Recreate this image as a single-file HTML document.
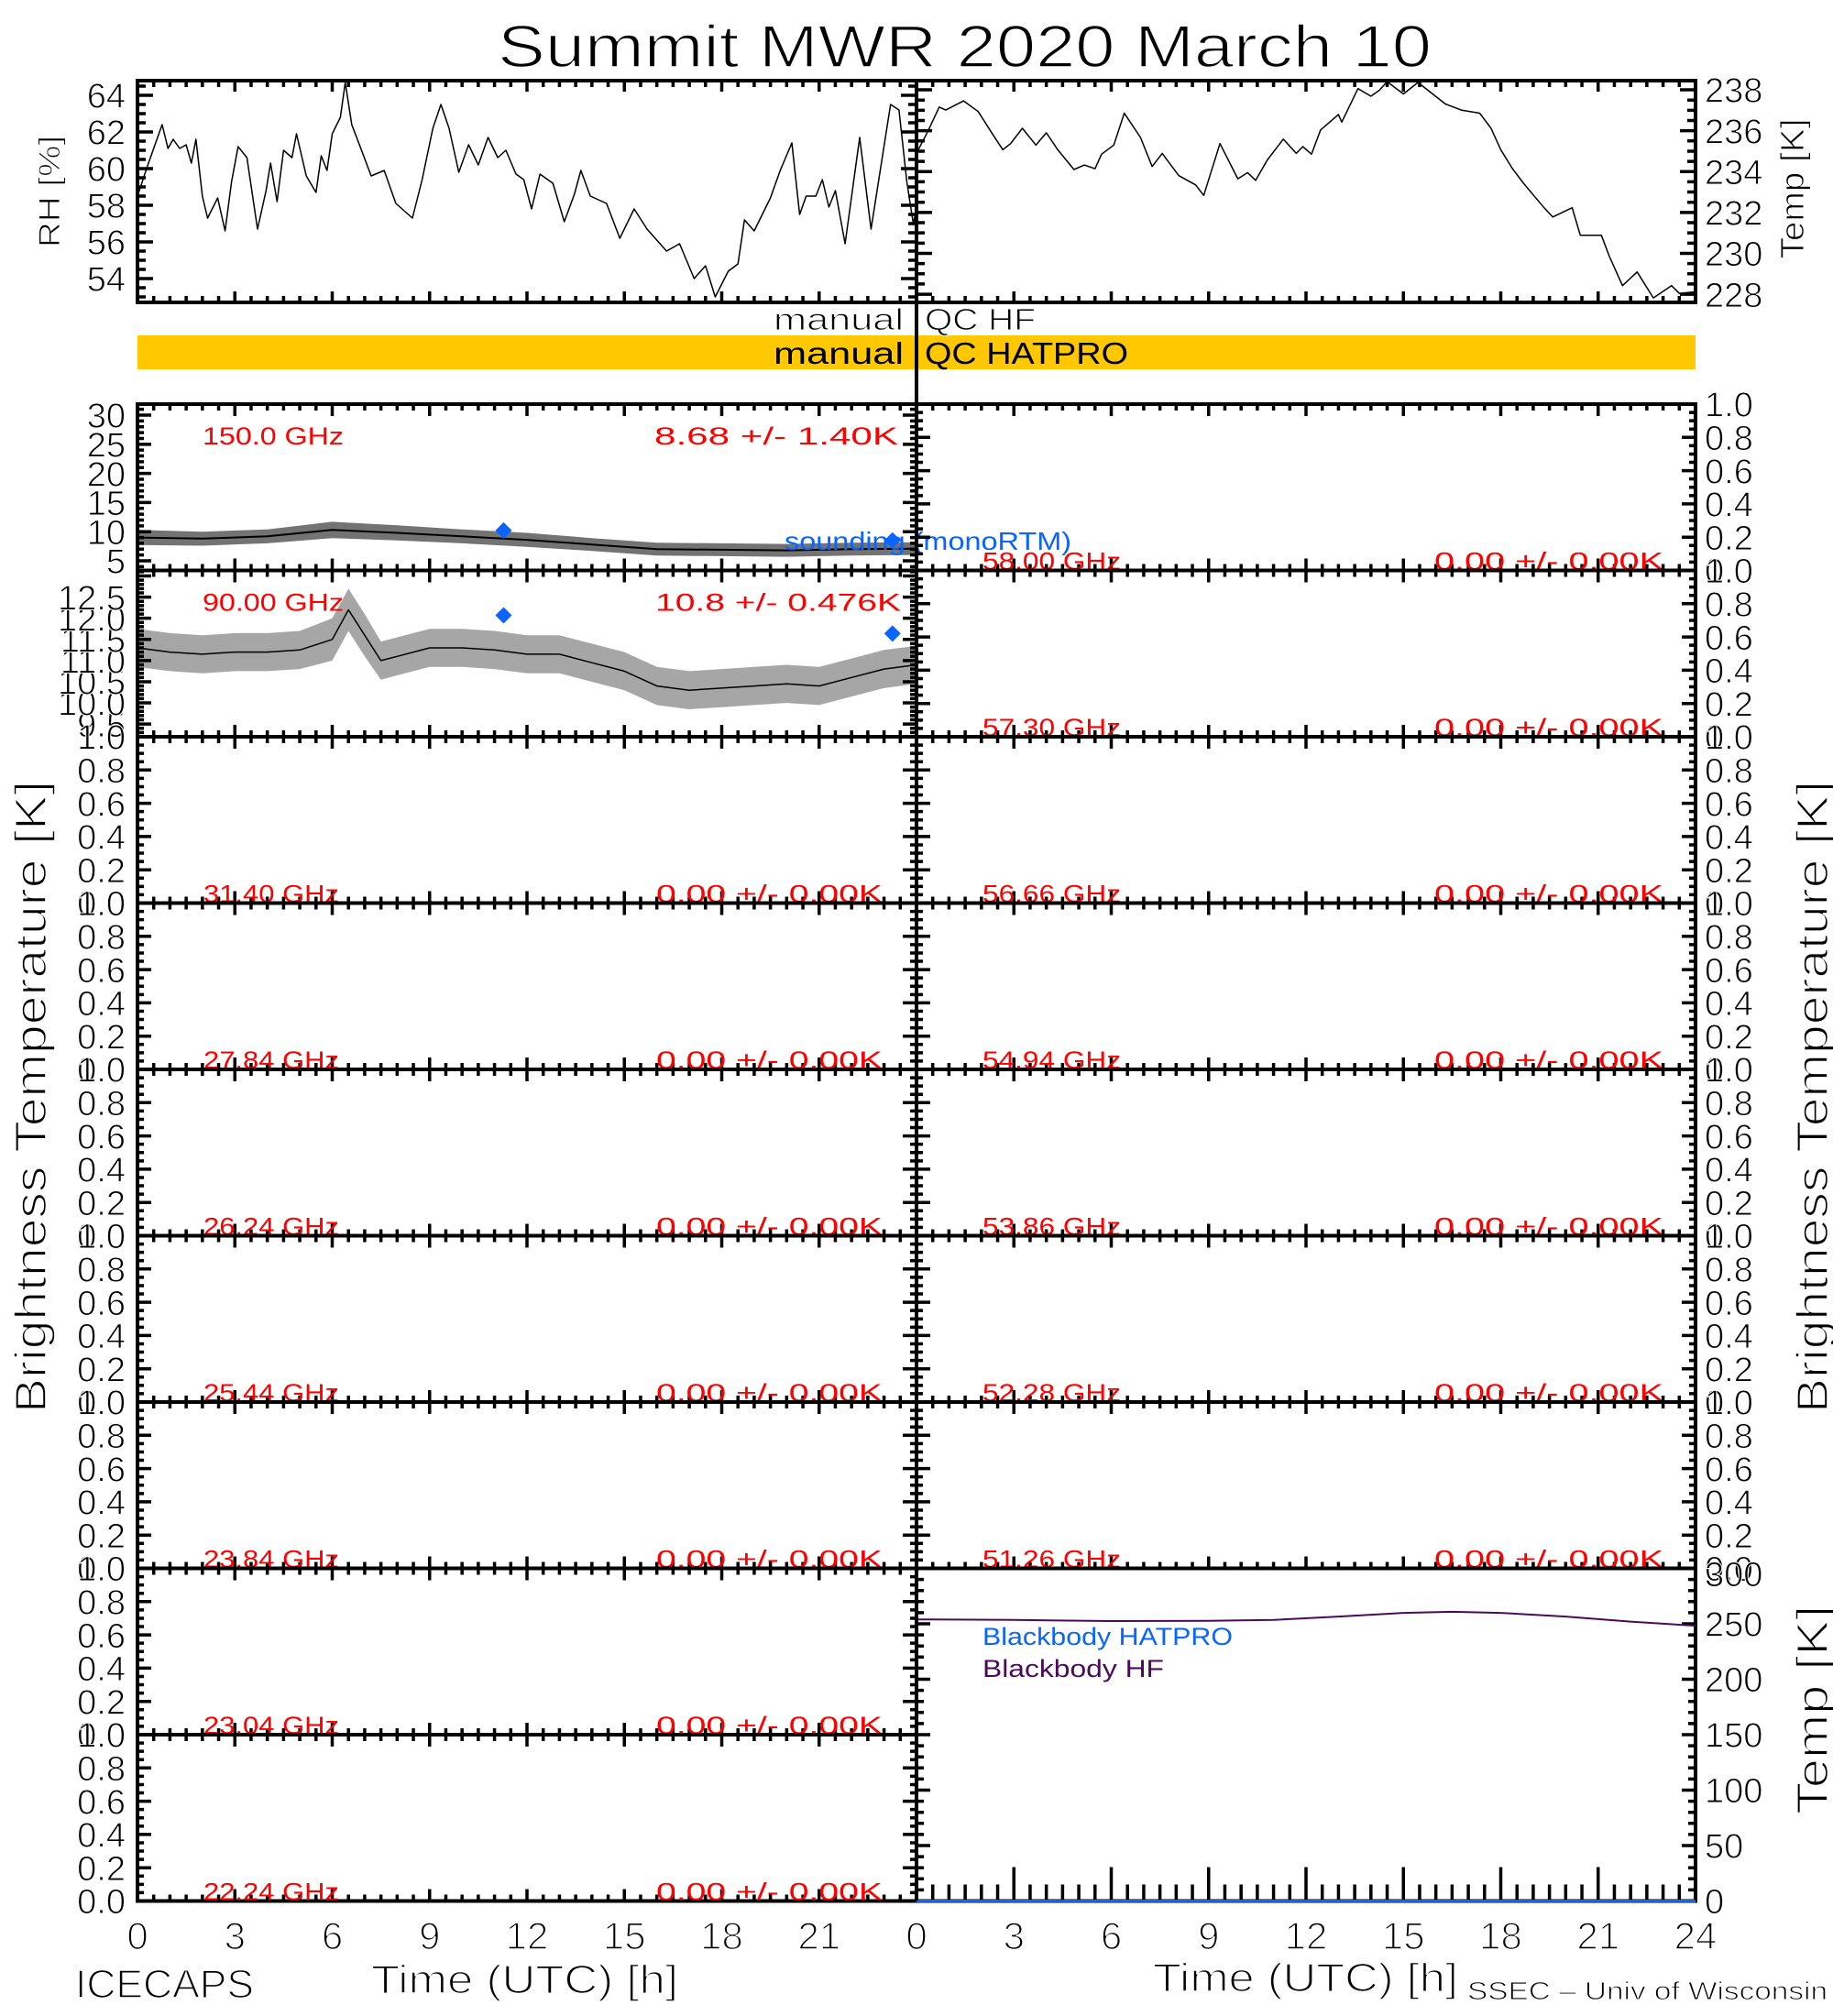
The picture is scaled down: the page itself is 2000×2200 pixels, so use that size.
<!DOCTYPE html>
<html><head><meta charset="utf-8"><title>Summit MWR 2020 March 10</title>
<style>html,body{margin:0;padding:0;background:#fff}svg{display:block}text{font-family:"Liberation Sans",sans-serif}.thin{stroke:#fff;stroke-width:1.6px}.thin2{stroke:#fff;stroke-width:1px}</style>
</head><body>
<svg id="chart" width="2000" height="2200" viewBox="0 0 2000 2200" xmlns="http://www.w3.org/2000/svg">
<rect x="0" y="0" width="2000" height="2200" fill="#fff"/>
<text class="thin" x="543" y="73" font-size="65" textLength="1019" lengthAdjust="spacingAndGlyphs">Summit MWR 2020 March 10</text>
<rect x="150" y="366" width="1700" height="37" fill="#ffc800"/>
<text class="thin2" x="986" y="360" font-size="33" text-anchor="end" textLength="142" lengthAdjust="spacingAndGlyphs">manual</text>
<text class="thin2" x="1009" y="360" font-size="33" textLength="121" lengthAdjust="spacingAndGlyphs">QC HF</text>
<text x="986" y="397" font-size="33" text-anchor="end" textLength="142" lengthAdjust="spacingAndGlyphs">manual</text>
<text x="1009" y="397" font-size="33" textLength="222" lengthAdjust="spacingAndGlyphs">QC HATPRO</text>
<text class="thin2" transform="translate(65,209) rotate(-90)" font-size="32" text-anchor="middle" textLength="122" lengthAdjust="spacingAndGlyphs">RH [%]</text>
<text class="thin2" transform="translate(1968,206) rotate(-90)" font-size="36" text-anchor="middle" textLength="153" lengthAdjust="spacingAndGlyphs">Temp [K]</text>
<text class="thin" transform="translate(50,1197) rotate(-90)" font-size="48" text-anchor="middle" textLength="690" lengthAdjust="spacingAndGlyphs">Brightness Temperature [K]</text>
<text class="thin" transform="translate(1994,1197) rotate(-90)" font-size="48" text-anchor="middle" textLength="690" lengthAdjust="spacingAndGlyphs">Brightness Temperature [K]</text>
<text class="thin" transform="translate(1994,1866) rotate(-90)" font-size="48" text-anchor="middle" textLength="228" lengthAdjust="spacingAndGlyphs">Temp [K]</text>
<text class="thin" x="405" y="2175" font-size="44" textLength="335" lengthAdjust="spacingAndGlyphs">Time (UTC) [h]</text>
<text class="thin" x="1258" y="2173" font-size="44" textLength="333" lengthAdjust="spacingAndGlyphs">Time (UTC) [h]</text>
<text class="thin" x="82" y="2180" font-size="44" textLength="195" lengthAdjust="spacingAndGlyphs">ICECAPS</text>
<text class="thin2" x="1601" y="2182" font-size="28" textLength="393" lengthAdjust="spacingAndGlyphs">SSEC – Univ of Wisconsin</text>
</svg>
<script>
const rhHours=[0,0.3,0.76,0.94,1.1,1.3,1.5,1.66,1.8,2.0,2.16,2.47,2.7,2.9,3.1,3.37,3.7,3.96,4.1,4.3,4.5,4.76,4.9,5.2,5.5,5.66,5.84,6.0,6.25,6.4,6.6,6.88,7.2,7.6,7.96,8.47,8.77,9.1,9.35,9.6,9.9,10.2,10.5,10.8,11.1,11.35,11.66,11.9,12.14,12.4,12.8,13.15,13.46,13.66,13.95,14.2,14.45,14.86,15.3,15.7,16.3,16.7,17.15,17.5,17.8,18.2,18.5,18.7,19.0,19.5,19.8,20.16,20.4,20.6,20.9,21.1,21.3,21.5,21.8,22.25,22.6,23.2,23.46,23.7,23.9,24];
const rhValues=[58.5,60.1,62.4,61.1,61.6,61.1,61.3,60.3,61.6,58.5,57.3,58.4,56.6,59.3,61.2,60.6,56.7,58.8,60.3,58.2,61.0,60.6,61.9,59.6,58.7,60.7,59.9,61.9,62.8,64.7,62.4,61.1,59.6,59.9,58.1,57.3,59.4,62.2,63.5,62.2,59.8,61.3,60.2,61.7,60.6,61.0,59.7,59.4,57.8,59.7,59.2,57.1,58.6,59.9,58.5,58.3,58.1,56.2,57.8,56.7,55.5,55.9,54.0,54.7,53.0,54.4,54.8,57.2,56.6,58.4,59.9,61.4,57.5,58.5,58.5,59.4,57.9,58.8,55.9,61.7,56.7,63.5,63.2,59.3,57.0,57.8];
const tempHours=[0,0.35,0.7,0.9,1.45,1.9,2.35,2.66,2.9,3.26,3.68,4.0,4.35,4.85,5.17,5.5,5.7,6.08,6.4,6.9,7.26,7.57,8.08,8.6,8.85,9.35,9.9,10.2,10.45,10.8,11.3,11.7,11.9,12.17,12.45,13.0,13.1,13.6,14.0,14.26,14.5,15.0,15.45,16.3,16.8,17.35,17.7,18.0,18.35,18.7,19.3,19.6,20.2,20.45,21.1,21.35,21.75,22.2,22.7,23.26,23.5,24];
const tempValues=[234.9,235.97,237.16,237.01,237.46,236.94,235.82,235.07,235.37,236.12,235.3,235.9,235.07,234.1,234.32,234.14,234.85,235.3,236.86,235.67,234.25,234.89,233.8,233.35,232.83,235.37,233.65,233.95,233.57,234.55,235.59,234.89,235.22,234.85,236.04,236.79,236.42,238.06,237.69,237.98,238.4,237.8,238.36,237.3,237.0,236.86,236.12,235.07,234.17,233.43,232.3,231.78,232.23,230.88,230.88,229.84,228.42,229.09,227.82,228.42,228.04,228.12];
const bt150Hours=[0,2,4,6,8,10,12,14,16,18,20,22,24];
const bt150Mean=[9.0,8.8,9.2,10.3,9.8,9.2,8.6,7.8,7.0,6.9,6.8,7.0,7.1];
const bt150Spread=[1.3,1.2,1.2,1.4,1.3,1.2,1.2,1.1,1.1,1.1,1.1,1.1,1.1];
const bt90Hours=[0,1,2,3,4,5,6,6.5,7,7.5,8,9,10,11,12,13,14,15,16,17,18,19,20,21,22,23,24];
const bt90Mean=[11.3,11.2,11.15,11.2,11.2,11.25,11.5,12.2,11.6,11.0,11.1,11.3,11.3,11.25,11.15,11.15,10.95,10.75,10.4,10.3,10.35,10.4,10.45,10.4,10.6,10.8,10.9];
const bt90Spread=[0.45,0.45,0.45,0.45,0.45,0.45,0.5,0.5,0.5,0.45,0.45,0.45,0.45,0.45,0.45,0.45,0.45,0.45,0.45,0.45,0.45,0.45,0.45,0.45,0.45,0.45,0.45];
const soundHours=[11.28,23.26];
const sound150=[10.2,8.5];
const sound90=[12.07,11.64];
const bbHours=[0,3,6,9,11,13,15,16.5,18,20,22,24];
const bbHF=[254,253.5,252.5,252.7,253.5,256.5,259.8,260.8,259.8,256.5,252,248.3];
const bbHatpro=[0,0,0,0,0,0,0,0,0,0,0,0];
const xTickLabels=[0,3,6,9,12,15,18,21,24];
const leftChannels=['150.0 GHz','90.00 GHz','31.40 GHz','27.84 GHz','26.24 GHz','25.44 GHz','23.84 GHz','23.04 GHz','22.24 GHz'];
const leftStats=['8.68 +/-  1.40K','10.8 +/- 0.476K','0.00 +/- 0.00K','0.00 +/- 0.00K','0.00 +/- 0.00K','0.00 +/- 0.00K','0.00 +/- 0.00K','0.00 +/- 0.00K','0.00 +/- 0.00K'];
const rightChannels=['58.00 GHz','57.30 GHz','56.66 GHz','54.94 GHz','53.86 GHz','52.28 GHz','51.26 GHz'];
const rightStats=['0.00 +/- 0.00K','0.00 +/- 0.00K','0.00 +/- 0.00K','0.00 +/- 0.00K','0.00 +/- 0.00K','0.00 +/- 0.00K','0.00 +/- 0.00K'];

const NS='http://www.w3.org/2000/svg';
const svg=document.getElementById('chart');
function mk(tag,attrs,name,parent){
  const el=document.createElementNS(NS,tag);
  for(const k in attrs) el.setAttribute(k,attrs[k]);
  
  
  (parent||svg).appendChild(el);
  return el;
}
const L0=150,L1=1000,R0=1000,R1=1850;
const ROW0=441,ROWH=181.5;
function xs(x0,x1){return h=>x0+h/24*(x1-x0);}
function near(v,s){return Math.abs(v/s-Math.round(v/s))<1e-6;}

function panel(name,x0,x1,y0,y1,ymin,ymax,major,minor,opt){
  const g=mk('g',{},name);
  const ys=v=>y1-(v-ymin)/(ymax-ymin)*(y1-y0);
  const yl=opt.ylen||[15,7], xl=opt.xlen||[13,7];
  const lmin=(opt.labMin!==undefined)?opt.labMin:-1e9, lmax=(opt.labMax!==undefined)?opt.labMax:1e9;
  let d='';
  const start=Math.ceil(ymin/minor-1e-9)*minor;
  for(let v=start; v<=ymax+1e-9; v+=minor){
    const vv=Math.round(v*1000)/1000;
    const y=ys(vv); const len=near(vv,major)?yl[0]:yl[1];
    d+=`M${x0},${y}h${len}M${x1},${y}h${-len}`;
    if(near(vv,major) && vv>=lmin-1e-9 && vv<=lmax+1e-9){
      if(opt.leftLabels){
        const t=mk('text',{x:x0-13,y:y,dy:'0.36em','font-size':38,'text-anchor':'end','class':'thin2'},'y-tick-label',g);
        t.textContent=opt.fmt(vv);
      }
      if(opt.rightLabels){
        const t=mk('text',{x:x1+10,y:y,dy:'0.36em','font-size':38,'class':'thin2'},'y-tick-label',g);
        t.textContent=opt.fmt(vv);
      }
    }
  }
  for(let h=0; h<=24; h+=0.5){
    const x=x0+h/24*(x1-x0); const len=(h%3===0)?xl[0]:xl[1];
    d+=`M${x},${y1}v${-len}`;
    if(!opt.noTop) d+=`M${x},${y0}v${len}`;
  }
  mk('path',{d:d,stroke:'#000','stroke-width':3.5,fill:'none'},'tick-marks',g);
  mk('rect',{x:x0,y:y0,width:x1-x0,height:y1-y0,fill:'none',stroke:'#000','stroke-width':4},'panel-frame',g);
  return {g,ys};
}
function line(g,hours,vals,xf,ys,color,w,name){
  const pts=hours.map((h,i)=>xf(hours[i]).toFixed(1)+','+ys(vals[i]).toFixed(1)).join(' ');
  return mk('polyline',{points:pts,fill:'none',stroke:color,'stroke-width':w,'stroke-linejoin':'round'},name,g);
}
function band(g,hours,mean,spread,xf,ys,op,name){
  const up=hours.map((h,i)=>xf(h).toFixed(1)+','+ys(mean[i]+spread[i]).toFixed(1));
  const dn=hours.map((h,i)=>xf(h).toFixed(1)+','+ys(mean[i]-spread[i]).toFixed(1)).reverse();
  return mk('polygon',{points:up.concat(dn).join(' '),fill:'#000','fill-opacity':op,stroke:'none'},name,g);
}
function diamond(g,x,y,color,name){
  return mk('polygon',{points:`${x},${y-9} ${x+9},${y} ${x},${y+9} ${x-9},${y}`,fill:color},name,g);
}
function label(g,x,y,txt,color,anchor,len,name){
  const t=mk('text',{x:x,y:y,'font-size':27,fill:color,'text-anchor':anchor,textLength:len,lengthAdjust:'spacingAndGlyphs'},name,g);
  t.textContent=txt;
  return t;
}

const xl=xs(L0,L1), xr=xs(R0,R1);
const rh=panel('rh-panel',L0,L1,88,330,52.7,64.8,2,0.5,{leftLabels:true,fmt:v=>v.toFixed(0),ylen:[17,9],xlen:[12,7]});
line(rh.g,rhHours,rhValues,xl,rh.ys,'#000',1.5,'rh-line');
const tp=panel('temp-panel',R0,R1,88,330,227.6,238.45,2,0.5,{rightLabels:true,fmt:v=>v.toFixed(0),ylen:[17,9],xlen:[12,7]});
line(tp.g,tempHours,tempValues,xr,tp.ys,'#000',1.5,'temp-line');

for(let i=0;i<9;i++){
  const y0=ROW0+i*ROWH, y1=y0+ROWH;
  let p;
  if(i===0){
    p=panel('panel-150ghz',L0,L1,y0,y1,3.35,31.89,5,1,{leftLabels:true,fmt:v=>v.toFixed(0)});
    band(p.g,bt150Hours,bt150Mean,bt150Spread,xl,p.ys,0.55,'bt-150-noise-band');
    line(p.g,bt150Hours,bt150Mean,xl,p.ys,'#000',2,'bt-150-line');
    for(let k=0;k<soundHours.length;k++) diamond(p.g,xl(soundHours[k]),p.ys(sound150[k]),'#0a64ff','sounding-point');
    label(p.g,221,y0+44,leftChannels[i],'#f00','start',154,'channel-label');
    label(p.g,980,y0+44,leftStats[i],'#f00','end',266,'channel-stats');
    const s=mk('text',{x:856,y:600,'font-size':28,fill:'#0a64ff',textLength:313,lengthAdjust:'spacingAndGlyphs'},'sounding-legend',p.g);
    s.textContent='sounding (monoRTM)';
  } else if(i===1){
    p=panel('panel-90ghz',L0,L1,y0,y1,9.2,13.13,0.5,0.1,{leftLabels:true,fmt:v=>v.toFixed(1),labMin:9.5,labMax:12.5});
    band(p.g,bt90Hours,bt90Mean,bt90Spread,xl,p.ys,0.35,'bt-90-noise-band');
    line(p.g,bt90Hours,bt90Mean,xl,p.ys,'#000',1.5,'bt-90-line');
    for(let k=0;k<soundHours.length;k++) diamond(p.g,xl(soundHours[k]),p.ys(sound90[k]),'#0a64ff','sounding-point');
    label(p.g,221,y0+44,leftChannels[i],'#f00','start',154,'channel-label');
    label(p.g,983,y0+44,leftStats[i],'#f00','end',268,'channel-stats');
  } else {
    p=panel('panel-'+leftChannels[i].replace(/[ .]/g,'').toLowerCase(),L0,L1,y0,y1,0,1,0.2,0.05,{leftLabels:true,fmt:v=>v.toFixed(1)});
    label(p.g,222,y1-1,leftChannels[i],'#f00','start',148,'channel-label');
    label(p.g,963,y1-1,leftStats[i],'#f00','end',247,'channel-stats');
  }
}
for(let i=0;i<7;i++){
  const y0=ROW0+i*ROWH, y1=y0+ROWH;
  const p=panel('panel-'+rightChannels[i].replace(/[ .]/g,'').toLowerCase(),R0,R1,y0,y1,0,1,0.2,0.05,{rightLabels:true,fmt:v=>v.toFixed(1)});
  label(p.g,1072,y1-1,rightChannels[i],'#f00','start',151,'channel-label');
  label(p.g,1815,y1-1,rightStats[i],'#f00','end',250,'channel-stats');
}
{
  const y0=ROW0+7*ROWH, y1=ROW0+9*ROWH;
  const p=panel('blackbody-panel',R0,R1,y0,y1,0,300,50,10,{rightLabels:true,fmt:v=>v.toFixed(0),ylen:[15,8],xlen:[37,18],noTop:true,labMax:290});
  const t300=mk('text',{x:R1+10,y:y0+6,dy:'0.36em','font-size':38,'class':'thin2'},'y-tick-label',p.g);
  t300.textContent='300';
  line(p.g,bbHours,bbHF,xr,p.ys,'#4b0a5a',2,'blackbody-hf-line');
  line(p.g,bbHours,bbHatpro,xr,p.ys,'#0a64ff',3,'blackbody-hatpro-line');
  label(p.g,1072,1795,'Blackbody HATPRO','#0a64ff','start',273,'legend-blackbody-hatpro');
  label(p.g,1072,1830,'Blackbody HF','#4b0a5a','start',198,'legend-blackbody-hf');
}
mk('line',{x1:1000,y1:88,x2:1000,y2:2074,stroke:'#000','stroke-width':4},'center-divider');
for(let k=0;k<xTickLabels.length;k++){
  const h=xTickLabels[k];
  if(h<24){
    const t=mk('text',{x:xl(h),y:2127,'font-size':42,'text-anchor':'middle','class':'thin'},'x-tick-label-left');
    t.textContent=String(h);
  }
  const t2=mk('text',{x:xr(h),y:2127,'font-size':42,'text-anchor':'middle','class':'thin'},'x-tick-label-right');
  t2.textContent=String(h);
}
</script>
</body></html>
